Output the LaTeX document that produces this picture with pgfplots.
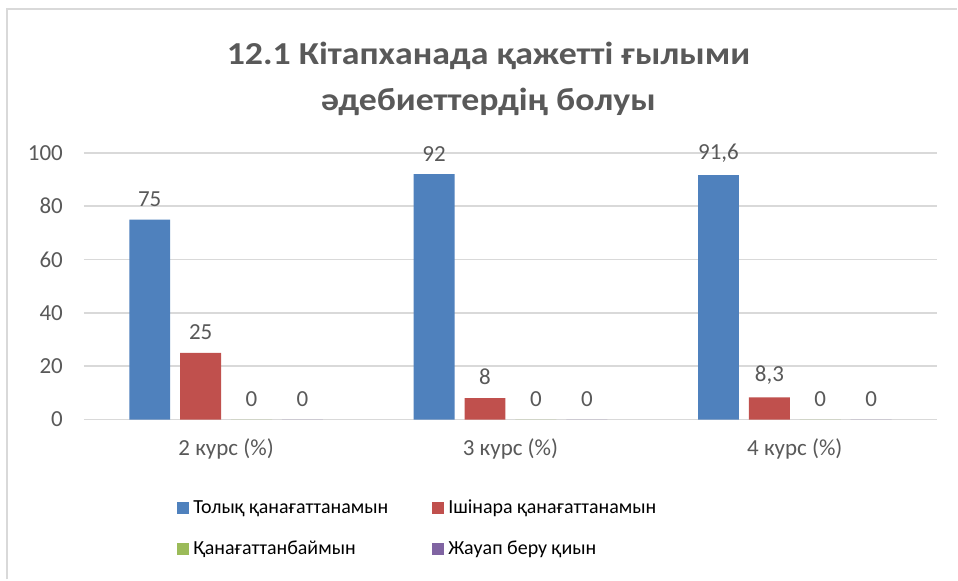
\documentclass[border=0pt]{standalone}
\usepackage{fontspec}
\setmainfont{Carlito}
\usepackage{graphicx}
\usepackage{pgfplots}
\pgfplotsset{compat=1.18}
\definecolor{cblue}{HTML}{4F81BD}
\definecolor{cred}{HTML}{C0504D}
\definecolor{cgreen}{HTML}{9BBB59}
\definecolor{cpurple}{HTML}{8064A2}
\definecolor{txt}{HTML}{595959}
\definecolor{gridc}{HTML}{D9D9D9}
\begin{document}
\begin{tikzpicture}
% page: 958x580 px at 0.5pt per px
\fill[white] (0pt,0pt) rectangle (479pt,290pt);
\draw[gridc,line width=1pt] (3.5pt,0pt) -- (3.5pt,285.5pt) -- (479pt,285.5pt);
\node[font=\fontsize{16}{18}\selectfont\bfseries,text=txt,align=center] at (244.5pt,250.5pt)
  {\scalebox{1.12}[1]{12.1 Кітапханада қажетті ғылыми}\\[5pt]\scalebox{1.12}[1]{әдебиеттердің болуы}};
\begin{axis}[
    at={(42pt,80pt)}, anchor=south west,
    scale only axis,
    width=427pt, height=133.5pt,
    ybar, bar width=0.144,
    enlargelimits=false,
    xmin=-0.5, xmax=2.5, ymin=0, ymax=100,
    xtick={0,1,2},
    xticklabels={2 курс (\%),3 курс (\%),4 курс (\%)},
    ytick={0,20,...,100},
    axis line style={draw=none},
    major tick length=0pt,
    ymajorgrids, grid style={draw=gridc,line width=0.8pt},
    tick label style={font=\fontsize{11.5}{13}\selectfont,text=txt},
    yticklabel style={xshift=-7pt},
    xticklabel style={yshift=-6pt},
    /pgf/number format/assume math mode=true,
    clip=false,
    nodes near coords,
    nodes near coords style={font=\fontsize{11.5}{13}\selectfont,text=txt,
        /pgf/number format/use comma,yshift=3pt},
    legend style={at={(0.102,-0.27)},anchor=north west,draw=none,
        font=\fontsize{10}{12}\selectfont,text=black,
        legend columns=2,row sep=8pt,
        /tikz/every even column/.append style={column sep=20pt}},
    legend cell align=left,
    area legend,
    legend image code/.code={\fill[#1] (0,-3pt) rectangle (6pt,3pt);},
]
\addplot[fill=cblue,draw=none,bar shift=-0.2685] coordinates {(0,75) (1,92) (2,91.6)};
\addplot[fill=cred,draw=none,bar shift=-0.0895] coordinates {(0,25) (1,8) (2,8.3)};
\addplot[fill=cgreen,draw=none,bar shift=0.0895] coordinates {(0,0) (1,0) (2,0)};
\addplot[fill=cpurple,draw=none,bar shift=0.2685] coordinates {(0,0) (1,0) (2,0)};
\legend{Толық қанағаттанамын,Ішінара қанағаттанамын,Қанағаттанбаймын,Жауап беру қиын}
\end{axis}
\end{tikzpicture}
\end{document}
